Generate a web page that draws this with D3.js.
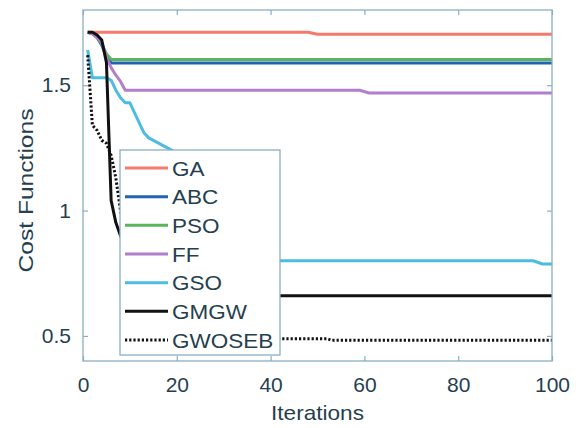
<!DOCTYPE html>
<html>
<head>
<meta charset="utf-8">
<script src="https://cdn.jsdelivr.net/npm/d3@7"></script>
<style>
  html, body { margin: 0; padding: 0; background: #fff; }
  svg { display: block; }
  text { font-family: "Liberation Sans", Arial, sans-serif; fill: #263f4f; }
</style>
</head>
<body>
<svg id="chart" width="576" height="428"></svg>
<script>
// ---------- data ----------
const seriesNames = ["GA", "ABC", "PSO", "FF", "GSO", "GMGW", "GWOSEB"];

const gaIter   = [1, 48, 50, 100];
const gaVal    = [1.711, 1.711, 1.703, 1.703];

const abcIter  = [1, 2, 3, 4, 5, 6, 100];
const abcVal   = [1.711, 1.705, 1.69, 1.66, 1.615, 1.589, 1.589];

const psoIter  = [1, 2, 3, 4, 5, 6, 100];
const psoVal   = [1.711, 1.708, 1.695, 1.665, 1.625, 1.603, 1.603];

const ffIter   = [1, 2, 3, 4, 5, 6, 7, 8, 9, 59, 61, 100];
const ffVal    = [1.711, 1.705, 1.69, 1.67, 1.61, 1.57, 1.54, 1.515, 1.48, 1.48, 1.469, 1.469];

const gsoIter  = [1, 2, 3, 4, 5, 6, 7, 8, 9, 10, 11, 12, 13, 14, 15, 16, 17, 18, 19, 20, 22, 25, 28, 32, 36, 96, 98, 100];
const gsoVal   = [1.64, 1.53, 1.53, 1.53, 1.53, 1.52, 1.48, 1.45, 1.43, 1.43, 1.39, 1.35, 1.31, 1.29, 1.28, 1.27, 1.26, 1.25, 1.24, 1.22, 1.10, 0.96, 0.86, 0.81, 0.80, 0.80, 0.787, 0.787];

const gmgwIter = [1, 2, 3, 4, 5, 6, 7, 8, 10, 13, 18, 22, 100];
const gmgwVal  = [1.711, 1.711, 1.70, 1.68, 1.59, 1.04, 0.952, 0.90, 0.80, 0.72, 0.68, 0.66, 0.66];

const gwoIter  = [1, 2, 3, 4, 5, 6, 7, 8, 9, 11, 14, 18, 24, 30, 52, 53, 100];
const gwoVal   = [1.62, 1.34, 1.32, 1.28, 1.268, 1.22, 1.13, 1.0, 0.92, 0.80, 0.68, 0.58, 0.52, 0.489, 0.489, 0.483, 0.483];

const xTicks = [0, 20, 40, 60, 80, 100];
const yTicks = [0.5, 1, 1.5];
const xLabel = "Iterations";
const yLabel = "Cost Functions";

// ---------- styles ----------
const colors = {
  GA: "#f47a6e", ABC: "#2362b4", PSO: "#5ab55a", FF: "#b27fcc",
  GSO: "#4cbde2", GMGW: "#111111", GWOSEB: "#111111"
};
const iters = [gaIter, abcIter, psoIter, ffIter, gsoIter, gmgwIter, gwoIter];
const vals  = [gaVal, abcVal, psoVal, ffVal, gsoVal, gmgwVal, gwoVal];

const series = seriesNames.map((name, i) => ({
  name,
  points: iters[i].map((it, j) => ({ x: it, y: vals[i][j] }))
}));

// ---------- layout ----------
const svg = d3.select("#chart");
const pL = 83, pR = 552, pT = 10, pB = 361;
const x = d3.scaleLinear().domain([0, 100]).range([pL, pR]);
const y = d3.scaleLinear().domain([0.4, 1.8]).range([pB, pT]);
const axisColor = "#8aaec5";
const lw = 3;
const dots = "2.2,2";

svg.append("defs").append("clipPath").attr("id", "clip")
  .append("rect").attr("x", pL).attr("y", pT)
  .attr("width", pR - pL).attr("height", pB - pT);

// lines
const line = d3.line().x(d => x(d.x)).y(d => y(d.y));
const gLines = svg.append("g").attr("clip-path", "url(#clip)");
series.forEach(s => {
  gLines.append("path")
    .datum(s.points)
    .attr("d", line)
    .attr("fill", "none")
    .attr("stroke", colors[s.name])
    .attr("stroke-width", lw)
    .attr("stroke-dasharray", s.name === "GWOSEB" ? dots : null)
    .attr("stroke-linejoin", "round");
});

// axes (box with inward ticks on all sides)
const tl = 5;
const axB = d3.axisBottom(x).tickValues(xTicks).tickSizeInner(-tl).tickSizeOuter(0).tickPadding(16);
const axT = d3.axisTop(x).tickValues(xTicks).tickSizeInner(-tl).tickSizeOuter(0).tickFormat("");
const axL = d3.axisLeft(y).tickValues(yTicks).tickSizeInner(-tl).tickSizeOuter(0).tickPadding(12).tickFormat(d3.format("~g"));
const axR = d3.axisRight(y).tickValues(yTicks).tickSizeInner(-tl).tickSizeOuter(0).tickFormat("");

function styleAxis(g) {
  g.selectAll("path.domain").remove();
  g.selectAll("line").attr("stroke", axisColor).attr("stroke-width", 1.2);
  g.selectAll("text").attr("font-size", 21).attr("fill", "#263f4f")
    .style("font-family", "'Liberation Sans', Arial, sans-serif");
}
svg.append("g").attr("transform", `translate(0,${pB})`).call(axB).call(styleAxis);
svg.append("g").attr("transform", `translate(0,${pT})`).call(axT).call(styleAxis);
svg.append("g").attr("transform", `translate(${pL},0)`).call(axL).call(styleAxis);
svg.append("g").attr("transform", `translate(${pR},0)`).call(axR).call(styleAxis);

svg.append("rect").attr("x", pL).attr("y", pT)
  .attr("width", pR - pL).attr("height", pB - pT)
  .attr("fill", "none").attr("stroke", axisColor).attr("stroke-width", 1.3);

// axis labels
svg.append("text").attr("x", (pL + pR) / 2).attr("y", 420)
  .attr("text-anchor", "middle").attr("font-size", 21)
  .attr("textLength", 93).attr("lengthAdjust", "spacingAndGlyphs")
  .text(xLabel);
svg.append("text")
  .attr("transform", `translate(33,${(pT + pB) / 2 + 5}) rotate(-90)`)
  .attr("text-anchor", "middle").attr("font-size", 21)
  .attr("textLength", 164).attr("lengthAdjust", "spacingAndGlyphs")
  .text(yLabel);

// legend
const lg = svg.append("g");
const lgX = 120, lgY = 150, lgW = 160, lgH = 205;
lg.append("rect").attr("x", lgX).attr("y", lgY).attr("width", lgW).attr("height", lgH)
  .attr("fill", "#fff").attr("stroke", axisColor).attr("stroke-width", 1.3);
const rowY = d3.scalePoint().domain(seriesNames).range([168, 340]);
seriesNames.forEach(name => {
  const yy = rowY(name);
  lg.append("line").attr("x1", 125).attr("x2", 168).attr("y1", yy).attr("y2", yy)
    .attr("stroke", colors[name]).attr("stroke-width", lw)
    .attr("stroke-dasharray", name === "GWOSEB" ? dots : null);
  const t = lg.append("text").attr("x", 172).attr("y", yy + 7.5)
    .attr("font-size", 21).text(name);
  const w = t.node().getComputedTextLength();
  t.attr("textLength", w * 1.07).attr("lengthAdjust", "spacingAndGlyphs");
});
</script>
</body>
</html>
